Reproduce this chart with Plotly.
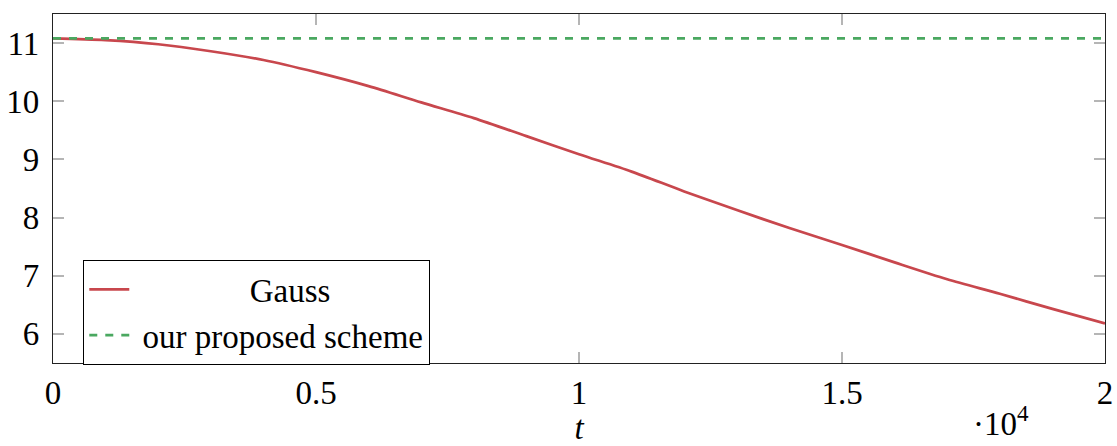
import plotly.graph_objects as go

# time samples (t) and values of each scheme
t = [0, 1000, 2000, 3000, 4000, 5000, 6000, 7000, 8000, 9000, 10000,
     11000, 12000, 13000, 14000, 15000, 16000, 17000, 18000, 19000, 20000]
gauss = [11.08, 11.05, 10.98, 10.86, 10.71, 10.50, 10.26, 9.98, 9.71, 9.40, 9.09,
         8.79, 8.45, 8.13, 7.82, 7.53, 7.23, 6.94, 6.69, 6.43, 6.18]
proposed = [11.08] * len(t)

x_tickvals = [0, 5000, 10000, 15000, 20000]
x_ticktext = ["0", "0.5", "1", "1.5", "2"]
y_tickvals = [6, 7, 8, 9, 10, 11]

FONT = "Liberation Serif"
FS = 33
RED = "#c8474d"
GREEN = "#4aa860"
NBSP = "\u00a0"

fig = go.Figure()
fig.add_trace(go.Scatter(
    x=t, y=gauss, mode="lines", name=NBSP * 14 + "Gauss",
    line=dict(color=RED, width=2.7, shape="spline", smoothing=0.8),
))
fig.add_trace(go.Scatter(
    x=t, y=proposed, mode="lines", name=NBSP + "our proposed scheme",
    line=dict(color=GREEN, width=2.7, dash="8px,8px"),
))

axis_common = dict(
    showgrid=False, zeroline=False, automargin=False,
    showline=True, linecolor="#222222", linewidth=1.3, mirror="allticks",
    ticks="inside", ticklen=11, tickwidth=1.5, tickcolor="#b5b5b5",
    tickfont=dict(family=FONT, size=FS, color="black"),
)

fig.update_xaxes(
    range=[0, 20000], tickvals=x_tickvals, ticktext=x_ticktext,
    title=dict(text="<i>t</i>", font=dict(family=FONT, size=FS, color="black"), standoff=12),
    **axis_common,
)
fig.update_yaxes(
    range=[5.5, 11.5], tickvals=y_tickvals, ticklabelstandoff=6,
    **axis_common,
)

# axis scale factor below the right end of the t axis
fig.add_annotation(
    text="\u00b710<sup>4</sup>", xref="paper", yref="paper",
    x=0.9016, y=-0.232, xanchor="center", yanchor="bottom", showarrow=False,
    font=dict(family=FONT, size=FS, color="black"),
)

fig.update_layout(
    width=1117, height=446,
    margin=dict(l=53, r=12, t=14, b=83, autoexpand=False),
    plot_bgcolor="white", paper_bgcolor="white",
    showlegend=True,
    legend=dict(
        x=0.0285, y=0.295, xanchor="left", yanchor="top",
        bgcolor="white", bordercolor="black", borderwidth=1.3,
        font=dict(family=FONT, size=FS, color="black"),
        itemwidth=40, tracegroupgap=0,
    ),
)

fig.write_html("out.html")
